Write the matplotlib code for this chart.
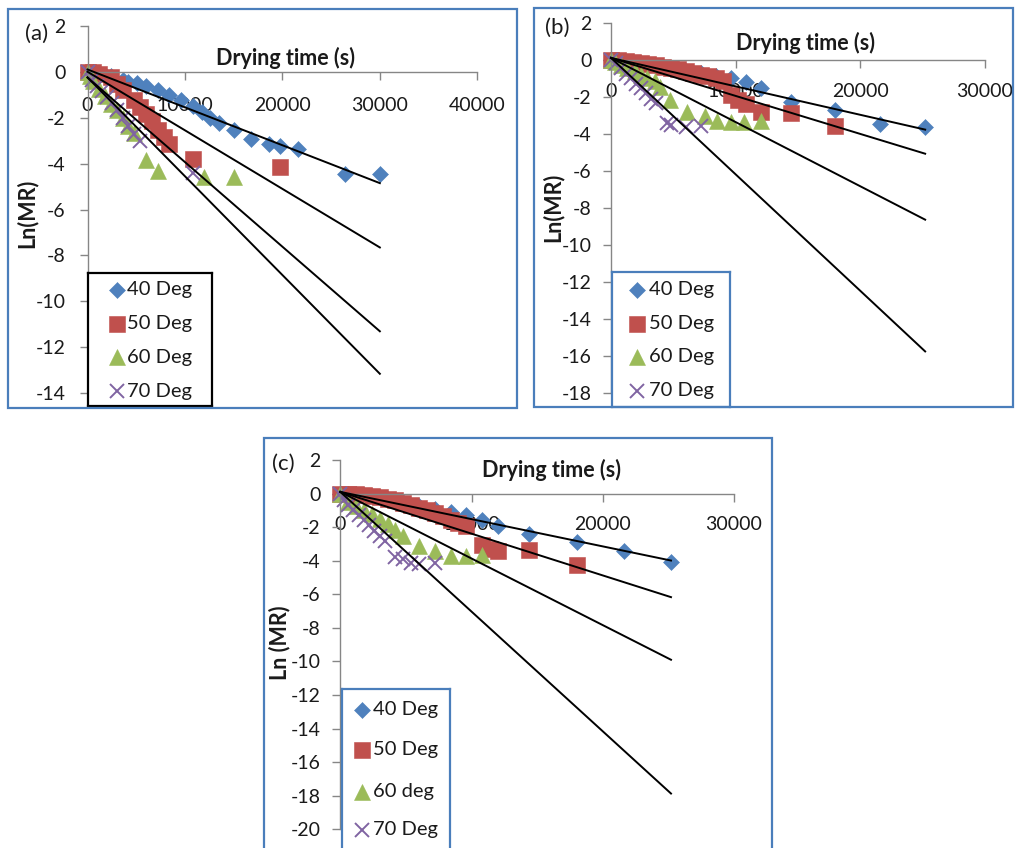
import matplotlib
matplotlib.use('Agg')
import matplotlib.pyplot as plt
from matplotlib.patches import Rectangle

plt.rcParams['font.family'] = ['Lato', 'DejaVu Sans']
plt.rcParams['axes.unicode_minus'] = False

W, H = 1018, 848

labels_ab = ['40 Deg', '50 Deg', '60 Deg', '70 Deg']
labels_c = ['40 Deg', '50 Deg', '60 deg', '70 Deg']
colors = ['#4F81BD', '#C0504D', '#9BBB59', '#8064A2']
markers = ['D', 's', '^', 'x']

# ---------------- panel (a) ----------------
a40_x = [0, 600, 1200, 1800, 2400, 3600, 4200, 5100, 6000, 7200, 8400, 9600, 10800,
         11700, 12600, 13500, 15000, 16800, 18600, 19800, 21600, 26400, 30000]
a40_y = [0, -0.03, -0.08, -0.13, -0.2, -0.35, -0.45, -0.5, -0.62, -0.8, -1.0, -1.25, -1.5,
         -1.75, -2.0, -2.25, -2.55, -2.95, -3.15, -3.25, -3.35, -4.45, -4.45]
a50_x = [0, 600, 1200, 2400, 3000, 3600, 4800, 5400, 6000, 6600, 7200, 7800, 8400, 10800, 19800]
a50_y = [0, -0.02, -0.1, -0.25, -0.55, -0.8, -1.25, -1.55, -1.85, -2.15, -2.55, -2.85, -3.15, -3.8, -4.15]
a60_x = [0, 300, 600, 1200, 1800, 2400, 3000, 3600, 4200, 4800, 6000, 7200, 12000, 15000]
a60_y = [0, -0.2, -0.4, -0.75, -1.05, -1.4, -1.65, -2.0, -2.35, -2.65, -3.85, -4.3, -4.6, -4.6]
a70_x = [0, 500, 1000, 1500, 2000, 2500, 3000, 3600, 4200, 4800, 5400, 10800]
a70_y = [0, -0.35, -0.6, -0.85, -1.1, -1.35, -1.65, -2.0, -2.35, -2.7, -3.0, -4.4]
a_fit_x_end = 30000
a_fit_start = [0.1, 0.0, -0.25, -0.25]
a_fit_end = [-4.85, -7.65, -11.3, -13.15]

# ---------------- panel (b) ----------------
b40_x = [0, 600, 1200, 1800, 2400, 3000, 3600, 4800, 6000, 7200, 8400, 9600, 10800,
         12000, 14400, 18000, 21600, 25200]
b40_y = [0, -0.05, -0.1, -0.15, -0.2, -0.3, -0.35, -0.45, -0.6, -0.7, -0.85, -1.0, -1.2,
         -1.55, -2.3, -2.7, -3.45, -3.65]
b50_x = [0, 600, 1200, 1800, 2400, 3000, 3600, 4200, 4800, 5400, 6000, 6600, 7200, 7800,
         8400, 9000, 9600, 10200, 10800, 12000, 14400, 18000]
b50_y = [0, -0.02, -0.05, -0.1, -0.15, -0.22, -0.3, -0.38, -0.45, -0.52, -0.6, -0.7, -0.8, -0.9,
         -1.0, -1.15, -1.9, -2.15, -2.4, -2.8, -2.85, -3.6]
b60_x = [0, 300, 800, 1300, 1900, 2400, 2900, 3500, 3900, 4700, 6100, 7500, 8500, 9600, 10700, 12000]
b60_y = [0, -0.1, -0.27, -0.45, -0.63, -0.8, -1.0, -1.17, -1.45, -2.15, -2.8, -3.05, -3.3, -3.35, -3.35, -3.3]
b70_x = [0, 400, 800, 1200, 1600, 2000, 2400, 2800, 3200, 3600, 4500, 4800, 6000, 7200]
b70_y = [0, -0.2, -0.45, -0.75, -1.0, -1.3, -1.55, -1.8, -2.1, -2.35, -3.4, -3.5, -3.65, -3.6]
b_fit_x_end = 25200
b_fit_start = [0.1, 0.1, 0.1, 0.1]
b_fit_end = [-3.77, -5.07, -8.63, -15.74]

# ---------------- panel (c) ----------------
c40_x = [0, 600, 1200, 1800, 2400, 3000, 3600, 4200, 4800, 6000, 7200, 8400, 9600, 10800,
         12000, 14400, 18000, 21600, 25200]
c40_y = [0, -0.02, -0.05, -0.1, -0.15, -0.22, -0.3, -0.4, -0.5, -0.75, -0.9, -1.1, -1.3, -1.6,
         -1.95, -2.4, -2.9, -3.4, -4.05]
c50_x = [0, 600, 1200, 1800, 2400, 3000, 3600, 4200, 4800, 5400, 6000, 6600, 7200, 7800, 8400,
         9000, 9600, 10800, 11400, 12000, 14400, 18000]
c50_y = [0, -0.02, -0.05, -0.1, -0.15, -0.22, -0.3, -0.4, -0.55, -0.7, -0.85, -1.0, -1.15, -1.35, -1.55,
         -1.75, -1.95, -3.05, -3.3, -3.45, -3.35, -4.25]
c60_x = [0, 600, 1200, 1800, 2400, 3000, 3600, 4200, 4800, 6000, 7200, 8400, 9600, 10800]
c60_y = [0, -0.5, -0.75, -0.95, -1.2, -1.5, -1.8, -2.15, -2.5, -3.15, -3.45, -3.7, -3.7, -3.65]
c70_x = [0, 300, 600, 1000, 1400, 1800, 2200, 2600, 3000, 3400, 4200, 4800, 5400, 6000, 7200]
c70_y = [0, -0.4, -0.7, -1.0, -1.3, -1.6, -1.9, -2.2, -2.5, -2.8, -3.8, -3.9, -4.15, -4.2, -4.15]
c_fit_x_end = 25200
c_fit_start = [0.1, 0.1, 0.1, 0.1]
c_fit_end = [-3.99, -6.17, -9.9, -17.87]

AXIS_GRAY = '#868686'
TEXT = '#1a1a1a'
BORDER_BLUE = '#4A7EBB'
FS = 14
MS = {'D': 8.5, 's': 12, '^': 11, 'x': 9.5}

fig = plt.figure(figsize=(W / 100, H / 100), dpi=100)
fig.patch.set_facecolor('white')


def frac_rect(l, t, r, b):
    return [l / W, 1 - b / H, (r - l) / W, (b - t) / H]


def panel_border(l, t, r, b):
    fig.patches.append(Rectangle((l / W, 1 - b / H), (r - l) / W, (b - t) / H,
                                 transform=fig.transFigure, fill=False,
                                 edgecolor=BORDER_BLUE, lw=1.6, zorder=0))


def draw_marker(ax, xs, ys, c, m):
    if m == 'x':
        ax.plot(xs, ys, ls='none', marker=m, ms=MS[m], color=c, mew=1.4,
                clip_on=False, zorder=2)
    else:
        ax.plot(xs, ys, ls='none', marker=m, ms=MS[m], color=c, mec=c, mew=0.4,
                clip_on=False, zorder=2)


def make_panel(rect, series, fit_x_end, fit_start, fit_end, xmax, ymin,
               xpad, ypad):
    ax = fig.add_axes(frac_rect(*rect))
    ax.set_facecolor('none')
    for (xs, ys), c, m in zip(series, colors, markers):
        draw_marker(ax, xs, ys, c, m)
    for s, e in zip(fit_start, fit_end):
        ax.plot([0, fit_x_end], [s, e], color='black', lw=1.4, zorder=3, clip_on=False)
    ax.set_xlim(0, xmax)
    ax.set_ylim(ymin, 2)
    ax.set_xticks(range(0, xmax + 1, 10000))
    ax.set_yticks(range(ymin, 3, 2))
    ax.spines['top'].set_visible(False)
    ax.spines['right'].set_visible(False)
    ax.spines['bottom'].set_position(('data', 0))
    for sp in ('left', 'bottom'):
        ax.spines[sp].set_color(AXIS_GRAY)
        ax.spines[sp].set_linewidth(1.0)
    ax.tick_params(axis='x', direction='out', length=6, width=1.0, color=AXIS_GRAY,
                   labelsize=FS, labelcolor=TEXT, pad=xpad)
    ax.tick_params(axis='y', direction='out', length=6, width=1.0, color=AXIS_GRAY,
                   labelsize=FS, labelcolor=TEXT, pad=ypad)
    return ax


def make_legend(box, marker_x, text_x, rows, labels, edge):
    l, t, r, b = box
    lax = fig.add_axes(frac_rect(l, t, r, b))
    lax.set_xlim(l, r)
    lax.set_ylim(b, t)
    lax.set_xticks([])
    lax.set_yticks([])
    lax.set_facecolor('white')
    for sp in lax.spines.values():
        sp.set_color(edge)
        sp.set_linewidth(1.6)
    for y, lab, c, m in zip(rows, labels, colors, markers):
        draw_marker(lax, [marker_x], [y], c, m)
        lax.text(text_x, y, lab, va='center', ha='left', fontsize=FS + 0.5, color=TEXT)
    return lax


def fig_text(x, y, s, **kw):
    fig.text(x / W, 1 - y / H, s, **kw)


# panel borders
panel_border(8, 9, 517, 408)
panel_border(534, 8, 1013, 407)
panel_border(264, 438, 772, 852)

# (a)
make_panel((87.5, 25.8, 477.3, 393.3),
           [(a40_x, a40_y), (a50_x, a50_y), (a60_x, a60_y), (a70_x, a70_y)],
           a_fit_x_end, a_fit_start, a_fit_end, 40000, -14, xpad=12, ypad=10)
# (b)
make_panel((611, 22.7, 985, 393.3),
           [(b40_x, b40_y), (b50_x, b50_y), (b60_x, b60_y), (b70_x, b70_y)],
           b_fit_x_end, b_fit_start, b_fit_end, 30000, -18, xpad=11, ypad=8)
# (c)
make_panel((340.3, 460, 734, 829.3),
           [(c40_x, c40_y), (c50_x, c50_y), (c60_x, c60_y), (c70_x, c70_y)],
           c_fit_x_end, c_fit_start, c_fit_end, 30000, -20, xpad=10.5, ypad=8)

# legends
make_legend((88, 273, 212, 406), 117, 127, [290, 324, 357, 391], labels_ab, 'black')
make_legend((612, 272, 730, 407), 637, 649, [290, 324, 357, 391], labels_ab, BORDER_BLUE)
make_legend((342, 689, 450, 852), 362, 373, [710, 750, 792, 830], labels_c, BORDER_BLUE)

# axis titles
title_kw = dict(fontsize=15.5, fontweight='bold', color=TEXT, ha='center', va='center')
fig_text(286, 58, 'Drying time (s)', **title_kw)
fig_text(806, 43, 'Drying time (s)', **title_kw)
fig_text(551, 470, 'Drying time (s)', **title_kw)
fig_text(27, 213, 'Ln(MR)', rotation=90, **title_kw)
fig_text(553, 207, 'Ln(MR)', rotation=90, **title_kw)
fig_text(280, 643, 'Ln (MR)', rotation=90, **title_kw)

# panel letters
letter_kw = dict(fontsize=16, color=TEXT, ha='center', va='center')
fig_text(37, 34, '(a)', **letter_kw)
fig_text(557, 28, '(b)', **letter_kw)
fig_text(283, 464, '(c)', **letter_kw)

fig.savefig('out.png', dpi=100, facecolor='white')
